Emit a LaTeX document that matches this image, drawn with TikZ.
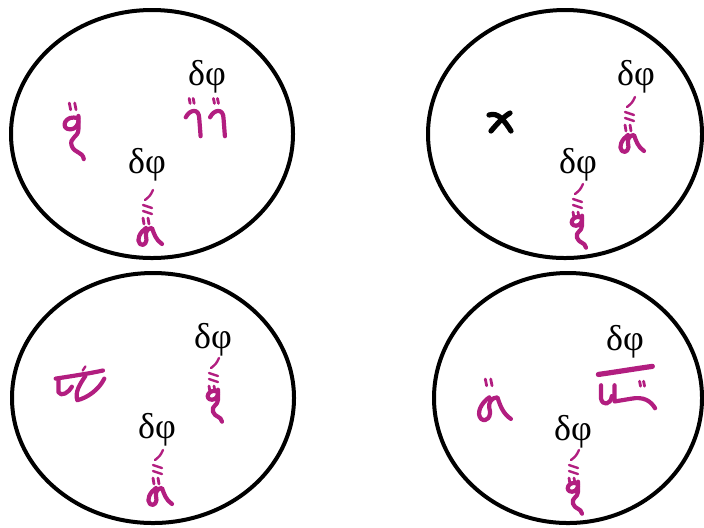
\documentclass[tikz,border=0pt]{standalone}
\usepackage{fontspec}
\setmainfont{Liberation Serif}
\usepackage{xcolor}
\usepackage{tikz}
\usetikzlibrary{positioning,calc}
\definecolor{glyphpink}{RGB}{178,30,128}

\tikzset{
  ring/.style={draw=black,line width=2pt},
  dphi/.style={inner sep=0pt,font=\fontsize{18}{19}\selectfont},
  glyph/.style={draw=glyphpink,line width=2.1pt,line cap=round,line join=round},
  thin/.style={glyph,line width=1.2pt},
  big/.style={scale=1.35},
  tall/.style={scale=1.15},
  % strokes above the tall letters
  ticks/.pic={
    \draw[thin] (5,-40) .. controls (2,-34) .. (-3,-30);
    \draw[thin] (-5,-25) -- (4,-22);
    \draw[thin] (-5,-19) -- (4,-16);
    \draw[thin,line width=1.4pt] (-5,-12) -- (-4,-6);
    \draw[thin,line width=1.4pt] (0,-12) -- (1,-6);
  },
  twodots/.pic={
    \draw[thin,line width=1.4pt] (-2,0) -- (-1,5);
    \draw[thin,line width=1.4pt] (2,0) -- (3,5);
  },
  loopletter/.pic={
    \draw[glyph] (-2,-2) .. controls (-8,2) and (-12,10) .. (-8,14)
      .. controls (-4,17) and (0,12) .. (-2,6) .. controls (-3,2) and (0,-2) .. (4,-2)
      .. controls (6,4) and (8,10) .. (14,14);
  },
  tailletter/.pic={
    \draw[glyph] (4,-4) .. controls (-6,-8) and (-10,4) .. (-2,4) .. controls (2,4) and (4,0) .. (4,-2);
    \draw[glyph] (4,-6) -- (4,4) .. controls (4,10) and (-3,10) .. (-1,16)
      .. controls (1,22) and (7,20) .. (8,26);
  },
  hookpair/.pic={
    \foreach \dx in {-9,9}{
      \draw[glyph] (\dx-6,-2) .. controls (\dx-3,-8) and (\dx+4,-9) .. (\dx+4,-1) -- (\dx+5,12);
      \pic at (\dx-2,-16) {twodots};
    }
  },
  barletter/.pic={
    \draw[glyph] (-18,-4) .. controls (-5,-6) and (8,-8) .. (17,-10);
    \draw[glyph] (-16,-4) -- (-16,6) .. controls (-14,10) and (-8,6) .. (-6,2);
    \draw[glyph] (4,-6) .. controls (0,0) and (-4,6) .. (-2,12) .. controls (6,10) and (14,4) .. (18,-4);
    \draw[thin] (2,-10) -- (4,-13);
  },
  barpair/.pic={
    \draw[glyph,line width=2.6pt] (-19,-13) .. controls (-5,-15) and (7,-17) .. (21,-19);
    \draw[glyph] (-17,-5) -- (-17,5) .. controls (-16,10) and (-10,10) .. (-9,3);
    \draw[glyph] (-7,-5) -- (-7,7) -- (5,5) .. controls (15,3) and (20,7) .. (23,12);
    \pic at (13,-8) {twodots};
  },
  tallloop/.pic={\pic {ticks}; \pic {loopletter};},
  talltail/.pic={\pic {ticks}; \pic at (0,-2) {tailletter};},
}

\begin{document}
\begin{tikzpicture}[x=0.5pt,y=-0.5pt]
\useasboundingbox (0,0) rectangle (704,527);

% four rings
\draw[ring] (152,134) ellipse [x radius=141,y radius=124];
\draw[ring] (565,134) ellipse [x radius=137,y radius=124];
\draw[ring] (153,398) ellipse [x radius=141,y radius=125];
\draw[ring] (568,398) ellipse [x radius=134,y radius=125];

% top left
\node[dphi] (tlA) at (207,77) {δφ};
\node[dphi] (tlB) at (147,165) {δφ};
\pic[big] at (73,124) {tailletter};
\pic[big] at (72,103) {twodots};
\pic[tall] at (148,230) {tallloop};
\pic[big] at (206,120) {hookpair};

% top right
\draw[line width=2.6pt,line cap=round] (489,115) .. controls (498,112) and (504,120) .. (511,131);
\draw[line width=2.6pt,line cap=round] (491,131) .. controls (497,124) and (502,118) .. (510,113);
\node[dphi] (trA) at (636,77) {δφ};
\node[dphi] (trB) at (578,165) {δφ};
\pic[tall] at (630,137) {tallloop};
\pic[tall] at (578,224) {talltail};

% bottom left
\node[dphi] (blA) at (213,340) {δφ};
\node[dphi] (blB) at (157,430) {δφ};
\pic[big] at (80,384) {barletter};
\pic[tall] at (214,398) {talltail};
\pic[tall] at (158,490) {tallloop};

% bottom right
\node[dphi] (brA) at (625,342) {δφ};
\node[dphi] (brB) at (573,432) {δφ};
\pic[big] at (492,400) {loopletter};
\pic[big] at (488,379) {twodots};
\pic[big] at (624,392) {barpair};
\pic[tall] at (574,490) {talltail};
\end{tikzpicture}
\end{document}
